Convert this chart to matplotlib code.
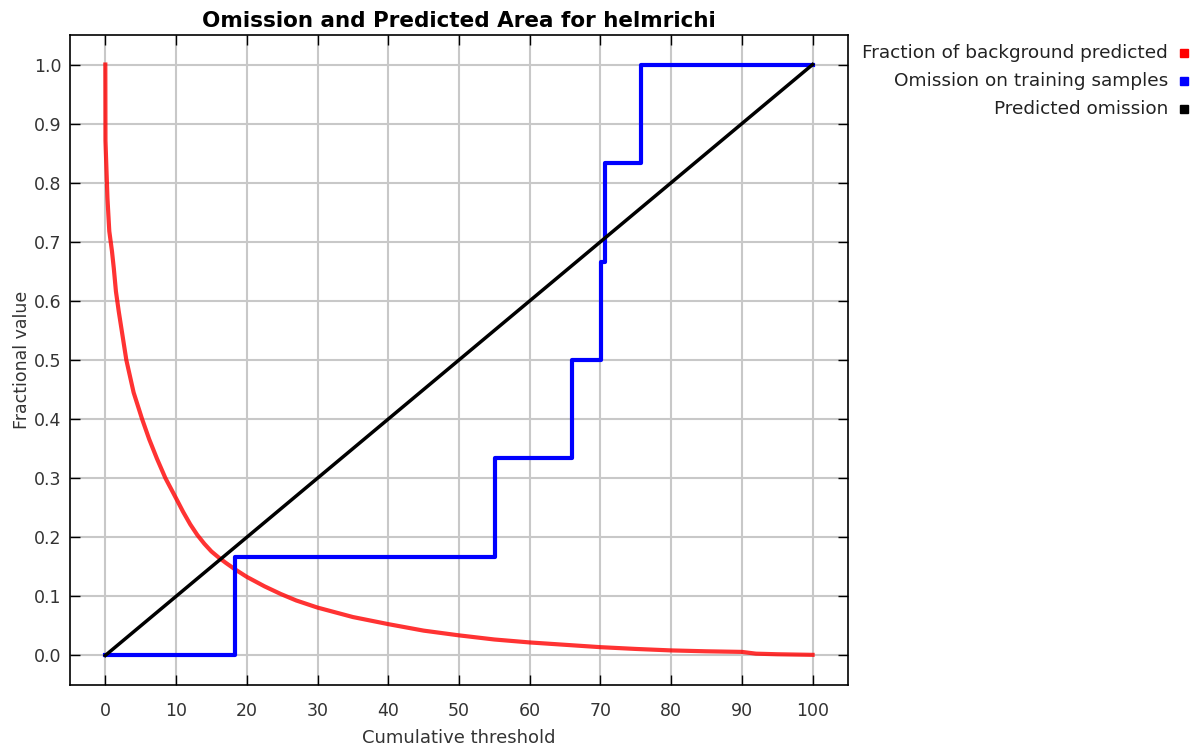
import matplotlib
matplotlib.use("Agg")
import matplotlib.pyplot as plt
from matplotlib.patches import Rectangle

# Fraction of background predicted (red curve)
bg_threshold = [0, 0.02, 0.3, 0.56, 0.94, 1.2, 1.5, 1.9, 2.97, 4.0, 5.2, 6.2, 7.3, 8.5,
                10, 11, 12, 13, 14, 15, 16, 17, 18.3, 20, 22.5, 24.8, 27, 30, 35,
                40, 45, 50, 55, 60, 65, 70, 75, 80, 85, 90, 92, 95, 100]
bg_fraction = [1.0, 0.871, 0.774, 0.718, 0.684, 0.655, 0.616, 0.582, 0.50, 0.445, 0.40,
               0.366, 0.333, 0.300, 0.266, 0.243, 0.222, 0.204, 0.189, 0.176, 0.166,
               0.157, 0.146, 0.133, 0.117, 0.104, 0.093, 0.081, 0.065, 0.053, 0.042,
               0.034, 0.027, 0.022, 0.018, 0.014, 0.011, 0.0085, 0.007, 0.006,
               0.003, 0.002, 0.001]

# Omission on training samples (blue step curve)
om_threshold = [0, 18.3, 55.1, 66.0, 70.1, 70.7, 75.8, 100]
om_value = [0, 1/6, 2/6, 3/6, 4/6, 5/6, 1.0, 1.0]

# Predicted omission (black diagonal)
pred_x = [0, 100]
pred_y = [0, 1]

legend_labels = ["Fraction of background predicted",
                 "Omission on training samples",
                 "Predicted omission"]
legend_colors = ["#ff0000", "#0000ff", "#000000"]

plt.rcParams['font.family'] = ['DejaVu Sans']

fig = plt.figure(figsize=(11.98, 7.51), dpi=100)
ax = fig.add_axes([0.0584, 0.0879, 0.6494, 0.8655])

ax.plot(bg_threshold, bg_fraction, color="#ff0000", lw=3, alpha=0.8,
        solid_joinstyle='round', zorder=3)
ax.step(om_threshold, om_value, where='post', color="#0000ff", lw=3, zorder=4)
ax.plot(pred_x, pred_y, color="#000000", lw=2.5, zorder=5)

ax.set_xlim(-5, 105)
ax.set_ylim(-0.05, 1.05)
ax.set_xticks(range(0, 101, 10))
ax.set_yticks([i / 10 for i in range(11)])
ax.set_yticklabels([f"{i / 10:.1f}" for i in range(11)])
ax.grid(True, color="#c8c8c8", lw=1.5)
ax.set_axisbelow(True)
ax.tick_params(direction='in', length=7, width=1.0, labelsize=12.5,
               top=True, right=True, colors='black', labelcolor='#333333')
ax.tick_params(axis='x', pad=12)
ax.tick_params(axis='y', pad=6)
for s in ax.spines.values():
    s.set_linewidth(1.2)

ax.set_xlabel("Cumulative threshold", fontsize=13, color='#333333', labelpad=7)
ax.set_ylabel("Fractional value", fontsize=12.5, color='#333333', labelpad=2)
ax.set_title("Omission and Predicted Area for helmrichi", fontsize=15.5,
             fontweight='bold', pad=6)

# legend on the right, text right-aligned with small colour squares
for i, (lab, col) in enumerate(zip(legend_labels, legend_colors)):
    y = 1 - (53 + 28 * i) / 751
    fig.text(1168 / 1198, y, lab, ha='right', va='center', fontsize=13.3,
             color='#222222')
    fig.patches.append(Rectangle((1180 / 1198, y - 4 / 751), 8 / 1198, 8 / 751,
                                 transform=fig.transFigure, color=col))

fig.savefig("out.png", dpi=100)
